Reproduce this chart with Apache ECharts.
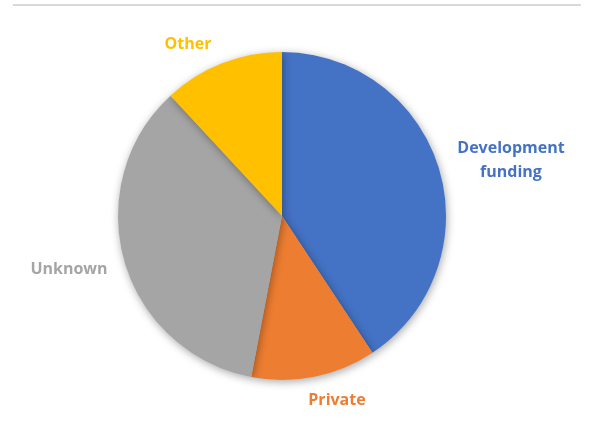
<!DOCTYPE html>
<html>
<head>
<meta charset="utf-8">
<script src="https://cdn.jsdelivr.net/npm/echarts@6/dist/echarts.min.js"></script>
<style>
  html, body { margin: 0; padding: 0; background: #ffffff; }
  #chart { width: 591px; height: 423px; }
</style>
</head>
<body>
<div id="chart"></div>
<script>
// Funding sources (share of total, %)
const categories = ['Development\nfunding', 'Private', 'Unknown', 'Other'];
const shares = [40.7, 12.3, 35.1, 11.9];
const colors = ['#4472C4', '#ED7D31', '#A5A5A5', '#FFC000'];

// Label anchor points around the pie (px)
const labelSpots = [
  { x: 511, y: 160 },
  { x: 337, y: 400 },
  { x: 69, y: 269 },
  { x: 188, y: 44 }
];

const chart = echarts.init(document.getElementById('chart'), null, { renderer: 'canvas' });

chart.setOption({
  backgroundColor: '#ffffff',
  animation: false,
  graphic: [{
    type: 'rect',
    shape: { x: 13, y: 4, width: 568, height: 2 },
    style: { fill: '#d9d9d9' },
    silent: true
  }],
  series: [{
    type: 'pie',
    center: [282, 216],
    radius: 164,
    startAngle: 90,
    clockwise: true,
    data: categories.map((name, i) => ({
      name: name,
      value: shares[i],
      itemStyle: { color: colors[i] },
      label: { color: colors[i] }
    })),
    itemStyle: {
      shadowBlur: 8,
      shadowColor: 'rgba(0,0,0,0.35)',
      shadowOffsetX: 1,
      shadowOffsetY: 2
    },
    label: {
      show: true,
      position: 'outside',
      alignTo: 'none',
      overflow: 'none',
      width: 200,
      formatter: '{b}',
      fontFamily: 'Open Sans',
      fontWeight: 'bold',
      fontSize: 16,
      lineHeight: 24,
      align: 'center'
    },
    labelLine: { show: false },
    labelLayout: function (params) {
      const p = labelSpots[params.dataIndex];
      return { x: p.x, y: p.y, align: 'center', verticalAlign: 'middle' };
    },
    emphasis: { disabled: true }
  }]
});
</script>
</body>
</html>
